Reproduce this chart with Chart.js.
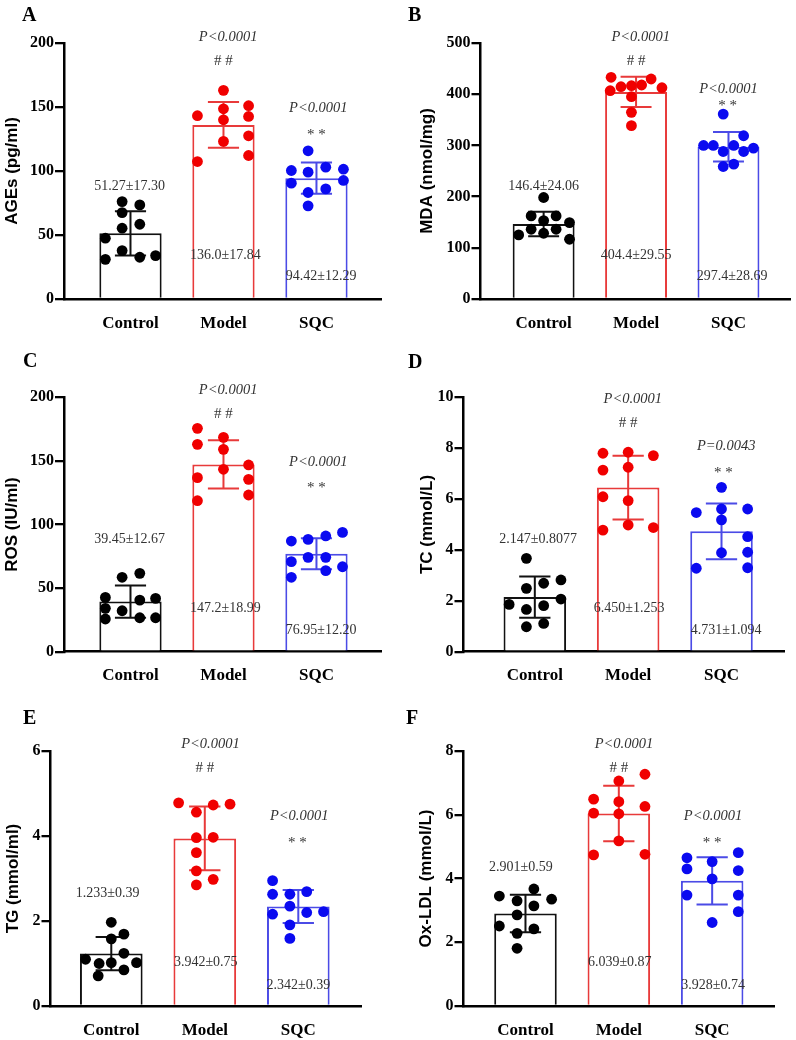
<!DOCTYPE html>
<html>
<head>
<meta charset="utf-8">
<script src="https://cdn.jsdelivr.net/npm/chart.js@4.4.1/dist/chart.umd.min.js"></script>
<style>
html, body { margin: 0; padding: 0; background: #ffffff; }
#wrap { position: relative; width: 796px; height: 1040px; overflow: hidden; background: #ffffff; }
#wrap canvas { position: absolute; }
.plabel { position: absolute; font-family: "Liberation Serif", serif; font-weight: bold; font-size: 20px; line-height: 20px; color: #000; }
</style>
</head>
<body>
<div id="wrap">
  <canvas id="cA"></canvas><canvas id="cB"></canvas><canvas id="cC"></canvas>
  <canvas id="cD"></canvas><canvas id="cE"></canvas><canvas id="cF"></canvas>
  <div class="plabel" style="left:22px;top:4px;">A</div>
  <div class="plabel" style="left:408px;top:4px;">B</div>
  <div class="plabel" style="left:23px;top:350px;">C</div>
  <div class="plabel" style="left:408px;top:351px;">D</div>
  <div class="plabel" style="left:23px;top:707px;">E</div>
  <div class="plabel" style="left:406px;top:707px;">F</div>
</div>
<script>
// ---------- shared ----------
const categories = ['Control', 'Model', 'SQC'];
const groupIndex = [0, 1, 2];

// ---------- A : AGEs ----------
const agesTicks = [0, 50, 100, 150, 200];
const agesMean = [51.27, 136.0, 94.42];
const agesSD = [17.30, 17.84, 12.29];
const agesMeanText = ['51.27±17.30', '136.0±17.84', '94.42±12.29'];
const agesPText = ['', 'P<0.0001', 'P<0.0001'];
const agesSigText = ['', '# #', '* *'];
const agesControl = [76.1, 73.5, 67.5, 58.4, 55.3, 47.5, 37.8, 31.0, 32.6, 33.9];
const agesControlJitter = [-0.09, 0.1, -0.09, 0.1, -0.09, -0.27, -0.09, -0.27, 0.1, 0.27];
const agesModel = [163.0, 143.2, 148.6, 151.0, 142.6, 140.0, 127.5, 123.1, 107.4, 112.1];
const agesModelJitter = [0, -0.28, 0, 0.27, 0.27, 0, 0.27, 0, -0.28, 0.27];
const agesSQC = [115.8, 100.4, 99.1, 103.0, 101.4, 90.5, 92.6, 86.0, 83.2, 72.8];
const agesSQCJitter = [-0.09, -0.27, -0.09, 0.1, 0.29, -0.27, 0.29, 0.1, -0.09, -0.09];

// ---------- B : MDA ----------
const mdaTicks = [0, 100, 200, 300, 400, 500];
const mdaMean = [146.4, 404.4, 297.4];
const mdaSD = [24.06, 29.55, 28.69];
const mdaMeanText = ['146.4±24.06', '404.4±29.55', '297.4±28.69'];
const mdaPText = ['', 'P<0.0001', 'P<0.0001'];
const mdaSigText = ['', '# #', '* *'];
const mdaControl = [198.2, 162.3, 162.3, 153.2, 149.3, 136.2, 136.2, 125.2, 128.4, 116.7];
const mdaControlJitter = [0, -0.135, 0.135, 0, 0.28, -0.135, 0.135, -0.27, 0, 0.28];
const mdaModel = [433.0, 429.7, 406.8, 414.6, 416.6, 418.0, 412.7, 395.1, 364.6, 338.5];
const mdaModelJitter = [-0.27, 0.163, -0.28, -0.163, -0.05, 0.06, 0.28, -0.05, -0.05, -0.05];
const mdaSQC = [361.1, 318.8, 299.9, 299.9, 299.9, 294.7, 288.1, 288.1, 258.8, 263.4];
const mdaSQCJitter = [-0.057, 0.164, -0.27, -0.164, 0.057, 0.27, -0.057, 0.164, -0.057, 0.057];

// ---------- C : ROS ----------
const rosTicks = [0, 50, 100, 150, 200];
const rosMean = [39.45, 147.2, 76.95];
const rosSD = [12.67, 18.99, 12.20];
const rosMeanText = ['39.45±12.67', '147.2±18.99', '76.95±12.20'];
const rosPText = ['', 'P<0.0001', 'P<0.0001'];
const rosSigText = ['', '# #', '* *'];
const rosControl = [58.5, 61.6, 42.7, 41.9, 40.6, 34.1, 32.2, 25.7, 26.7, 26.7];
const rosControlJitter = [-0.09, 0.1, -0.27, 0.27, 0.1, -0.27, -0.09, -0.27, 0.1, 0.27];
const rosModel = [175.6, 168.5, 163.0, 159.1, 146.8, 143.4, 136.8, 135.5, 123.2, 118.7];
const rosModelJitter = [-0.28, 0, -0.28, 0, 0.27, 0, -0.28, 0.27, 0.27, -0.28];
const rosSQC = [93.8, 87.0, 88.3, 91.0, 70.8, 74.2, 74.2, 66.8, 63.7, 58.5];
const rosSQCJitter = [0.28, -0.27, -0.09, 0.1, -0.27, -0.09, 0.1, 0.28, 0.1, -0.27];

// ---------- D : TC ----------
const tcTicks = [0, 2, 4, 6, 8, 10];
const tcMean = [2.147, 6.450, 4.731];
const tcSD = [0.8077, 1.253, 1.094];
const tcMeanText = ['2.147±0.8077', '6.450±1.253', '4.731±1.094'];
const tcPText = ['', 'P<0.0001', 'P=0.0043'];
const tcSigText = ['', '# #', '* *'];
const tcControl = [3.67, 2.82, 2.69, 2.49, 1.86, 2.07, 1.81, 1.66, 1.11, 0.98];
const tcControlJitter = [-0.09, 0.28, 0.095, -0.09, -0.275, 0.28, 0.095, -0.09, 0.095, -0.09];
const tcModel = [7.80, 7.84, 7.71, 7.14, 7.25, 6.09, 5.94, 4.78, 4.98, 4.88];
const tcModelJitter = [-0.27, 0, 0.27, -0.27, 0, -0.27, 0, -0.27, 0, 0.27];
const tcSQC = [6.46, 5.47, 5.61, 5.61, 5.18, 4.52, 3.89, 3.91, 3.28, 3.30];
const tcSQCJitter = [0, -0.27, 0, 0.28, 0, 0.28, 0, 0.28, -0.27, 0.28];

// ---------- E : TG ----------
const tgTicks = [0, 2, 4, 6];
const tgMean = [1.233, 3.942, 2.342];
const tgSD = [0.39, 0.75, 0.39];
const tgMeanText = ['1.233±0.39', '3.942±0.75', '2.342±0.39'];
const tgPText = ['', 'P<0.0001', 'P<0.0001'];
const tgSigText = ['', '# #', '* *'];
const tgControl = [1.97, 1.69, 1.58, 1.10, 1.00, 1.02, 1.24, 1.02, 0.85, 0.71];
const tgControlJitter = [0, 0.135, 0, -0.275, -0.13, 0, 0.135, 0.27, 0.135, -0.14];
const tgModel = [4.78, 4.73, 4.75, 4.56, 3.96, 3.97, 3.61, 3.18, 2.98, 2.85];
const tgModelJitter = [-0.28, 0.09, 0.27, -0.09, -0.09, 0.09, -0.09, -0.09, 0.09, -0.09];
const tgSQC = [2.95, 2.63, 2.63, 2.69, 2.35, 2.16, 2.20, 2.22, 1.91, 1.59];
const tgSQCJitter = [-0.275, -0.275, -0.09, 0.09, -0.09, -0.275, 0.09, 0.27, -0.09, -0.09];

// ---------- F : Ox-LDL ----------
const oxTicks = [0, 2, 4, 6, 8];
const oxMean = [2.901, 6.039, 3.928];
const oxSD = [0.59, 0.87, 0.74];
const oxMeanText = ['2.901±0.59', '6.039±0.87', '3.928±0.74'];
const oxPText = ['', 'P<0.0001', 'P<0.0001'];
const oxSigText = ['', '# #', '* *'];
const oxControl = [3.67, 3.45, 3.35, 3.30, 3.14, 2.86, 2.51, 2.42, 2.28, 1.81];
const oxControlJitter = [0.09, -0.28, 0.28, -0.09, 0.09, -0.09, -0.28, 0.09, -0.09, -0.09];
const oxModel = [7.27, 7.06, 6.49, 6.41, 6.26, 6.05, 6.03, 5.18, 4.74, 4.76];
const oxModelJitter = [0.28, 0, -0.27, 0, 0.28, -0.27, 0, 0, -0.27, 0.28];
const oxSQC = [4.81, 4.65, 4.53, 4.30, 4.25, 3.99, 3.48, 3.48, 2.96, 2.62];
const oxSQCJitter = [0.28, -0.27, 0, -0.27, 0.28, 0, -0.27, 0.28, 0.28, 0];

// ---------- styles ----------
const barColors = ['#111111', '#e83a3a', '#4b4be6'];
const dotColors = ['#000000', '#f00000', '#0a0af0'];
const textColor = '#333333';

// ---------- panel layout (positions / styles only) ----------
const panels = [
  { canvas: 'cA', title: 'AGEs (pg/ml)', ticks: agesTicks, mean: agesMean, sd: agesSD,
    meanText: agesMeanText, pText: agesPText, sigText: agesSigText,
    values: [agesControl, agesModel, agesSQC], jitter: [agesControlJitter, agesModelJitter, agesSQCJitter],
    box: { left: 0, top: 0, w: 398, h: 345 }, axisX: 64, plotTop: 43, plotBottom: 299, plotRight: 381,
    xMin: -0.715, xMax: 2.694, titlePad: 2.5,
    pos: { mean: [[-0.01, 88.3], [1.02, 34.4], [2.05, 17.4]], p: [null, [1.05, 204.4], [2.02, 149]], sig: [null, [1.0, 186.2], [2.0, 128]] } },
  { canvas: 'cB', title: 'MDA (nmol/mg)', ticks: mdaTicks, mean: mdaMean, sd: mdaSD,
    meanText: mdaMeanText, pText: mdaPText, sigText: mdaSigText,
    values: [mdaControl, mdaModel, mdaSQC], jitter: [mdaControlJitter, mdaModelJitter, mdaSQCJitter],
    box: { left: 398, top: 0, w: 398, h: 345 }, axisX: 480.5, plotTop: 43, plotBottom: 299, plotRight: 795,
    xMin: -0.683, xMax: 2.672, titlePad: 18.8,
    pos: { mean: [[0, 220.7], [1.0, 86], [2.04, 43.6]], p: [null, [1.05, 511], [2.0, 409.5]], sig: [null, [1.0, 465.4], [1.99, 377]] } },
  { canvas: 'cC', title: 'ROS (IU/ml)', ticks: rosTicks, mean: rosMean, sd: rosSD,
    meanText: rosMeanText, pText: rosPText, sigText: rosSigText,
    values: [rosControl, rosModel, rosSQC], jitter: [rosControlJitter, rosModelJitter, rosSQCJitter],
    box: { left: 0, top: 345, w: 398, h: 345 }, axisX: 64, plotTop: 397.3, plotBottom: 651.7, plotRight: 381,
    xMin: -0.715, xMax: 2.694, titlePad: 2.5,
    pos: { mean: [[-0.01, 88.4], [1.02, 34.1], [2.05, 16.5]], p: [null, [1.05, 205.2], [2.02, 148.9]], sig: [null, [1.0, 186.9], [2.0, 128.4]] } },
  { canvas: 'cD', title: 'TC (mmol/L)', ticks: tcTicks, mean: tcMean, sd: tcSD,
    meanText: tcMeanText, pText: tcPText, sigText: tcSigText,
    values: [tcControl, tcModel, tcSQC], jitter: [tcControlJitter, tcModelJitter, tcSQCJitter],
    box: { left: 398, top: 345, w: 398, h: 345 }, axisX: 463.5, plotTop: 397.3, plotBottom: 651.7, plotRight: 784.7,
    xMin: -0.764, xMax: 2.677, titlePad: 18.8,
    pos: { mean: [[0.035, 4.42], [1.01, 1.71], [2.05, 0.83]], p: [null, [1.05, 9.93], [2.05, 8.06]], sig: [null, [1.0, 8.98], [2.02, 7.04]] } },
  { canvas: 'cE', title: 'TG (mmol/ml)', ticks: tgTicks, mean: tgMean, sd: tgSD,
    meanText: tgMeanText, pText: tgPText, sigText: tgSigText,
    values: [tgControl, tgModel, tgSQC], jitter: [tgControlJitter, tgModelJitter, tgSQCJitter],
    box: { left: 0, top: 690, w: 398, h: 350 }, axisX: 50.5, plotTop: 751, plotBottom: 1006, plotRight: 361.7,
    xMin: -0.650, xMax: 2.678, titlePad: 2.8,
    pos: { mean: [[-0.04, 2.65], [1.01, 1.02], [2.0, 0.49]], p: [null, [1.06, 6.16], [2.01, 4.47]], sig: [null, [1.0, 5.61], [1.99, 3.84]] } },
  { canvas: 'cF', title: 'Ox-LDL (mmol/L)', ticks: oxTicks, mean: oxMean, sd: oxSD,
    meanText: oxMeanText, pText: oxPText, sigText: oxSigText,
    values: [oxControl, oxModel, oxSQC], jitter: [oxControlJitter, oxModelJitter, oxSQCJitter],
    box: { left: 398, top: 690, w: 398, h: 350 }, axisX: 463.5, plotTop: 751, plotBottom: 1006, plotRight: 774.7,
    xMin: -0.664, xMax: 2.67, titlePad: 18.5,
    pos: { mean: [[-0.05, 4.34], [1.01, 1.36], [2.01, 0.66]], p: [null, [1.055, 8.22], [2.01, 5.96]], sig: [null, [1.0, 7.48], [2.0, 5.12]] } }
];

// ---------- plugin: error bars + annotations ----------
const errorAndTextPlugin = {
  id: 'errAndText',
  afterDatasetDraw(chart, args, opts) {
    if (args.index !== 0) return;
    const ctx = chart.ctx;
    const xs = chart.scales.x, ys = chart.scales.y;
    const meta = chart.getDatasetMeta(0);
    ctx.save();
    ctx.lineWidth = 2;
    ctx.lineCap = 'butt';
    opts.mean.forEach((m, i) => {
      const cx = xs.getPixelForValue(groupIndex[i]);
      const half = meta.data[i].width / 4;
      const yTop = ys.getPixelForValue(m + opts.sd[i]);
      const yBot = ys.getPixelForValue(m - opts.sd[i]);
      ctx.strokeStyle = opts.colors[i];
      ctx.beginPath();
      ctx.moveTo(cx, yTop); ctx.lineTo(cx, yBot);
      ctx.moveTo(cx - half, yTop); ctx.lineTo(cx + half, yTop);
      ctx.moveTo(cx - half, yBot); ctx.lineTo(cx + half, yBot);
      ctx.stroke();
    });
    ctx.restore();
  },
  afterDraw(chart, args, opts) {
    const ctx = chart.ctx;
    const xs = chart.scales.x, ys = chart.scales.y;
    ctx.save();
    ctx.textAlign = 'center';
    ctx.textBaseline = 'middle';
    ctx.fillStyle = textColor;
    const put = (txt, p, font) => {
      if (!txt || !p) return;
      ctx.font = font;
      ctx.fillText(txt, xs.getPixelForValue(p[0]), ys.getPixelForValue(p[1]));
    };
    groupIndex.forEach(i => {
      put(opts.meanText[i], opts.pos.mean[i], '14px "Liberation Serif"');
      put(opts.pText[i], opts.pos.p[i], 'italic 14.5px "Liberation Serif"');
      put(opts.sigText[i], opts.pos.sig[i], '15px "Liberation Serif"');
    });
    ctx.restore();
  }
};

// ---------- build charts ----------
panels.forEach(p => {
  const cv = document.getElementById(p.canvas);
  cv.width = p.box.w; cv.height = p.box.h;
  cv.style.left = p.box.left + 'px'; cv.style.top = p.box.top + 'px';
  cv.style.width = p.box.w + 'px'; cv.style.height = p.box.h + 'px';

  const yWidth = p.axisX - p.box.left;
  const xHeight = p.box.top + p.box.h - p.plotBottom;

  const datasets = [{
    type: 'bar',
    data: groupIndex.map(i => ({ x: i, y: p.mean[i] })),
    backgroundColor: '#ffffff',
    borderColor: barColors,
    borderWidth: 2,
    borderSkipped: 'start',
    barPercentage: 0.67,
    categoryPercentage: 1.0,
    order: 2
  }];
  groupIndex.forEach(g => {
    datasets.push({
      type: 'scatter',
      data: p.values[g].map((v, k) => ({ x: g + p.jitter[g][k], y: v })),
      backgroundColor: dotColors[g],
      borderWidth: 0,
      pointRadius: 5.4,
      pointHoverRadius: 5.4,
      order: 1
    });
  });

  new Chart(cv, {
    type: 'bar',
    data: { datasets },
    plugins: [errorAndTextPlugin],
    options: {
      responsive: false,
      animation: false,
      events: [],
      layout: { padding: { left: 0, top: p.plotTop - p.box.top, right: p.box.left + p.box.w - p.plotRight, bottom: 0 } },
      plugins: {
        legend: { display: false },
        tooltip: { enabled: false },
        errAndText: { mean: p.mean, sd: p.sd, colors: barColors, meanText: p.meanText, pText: p.pText, sigText: p.sigText, pos: p.pos }
      },
      scales: {
        x: {
          type: 'linear',
          offset: false,
          min: p.xMin, max: p.xMax,
          afterBuildTicks: s => { s.ticks = groupIndex.map(v => ({ value: v })); },
          afterFit: s => { s.height = xHeight; },
          ticks: {
            callback: v => categories[v],
            autoSkip: false, maxRotation: 0,
            color: '#000000',
            padding: 14,
            font: { family: 'Liberation Serif', weight: 'bold', size: 17 }
          },
          grid: { display: false, drawTicks: false, offset: false },
          border: { display: true, color: '#000000', width: 2.5 }
        },
        y: {
          type: 'linear',
          min: p.ticks[0], max: p.ticks[p.ticks.length - 1],
          afterBuildTicks: s => { s.ticks = p.ticks.map(v => ({ value: v })); },
          afterFit: s => { s.width = yWidth; },
          ticks: {
            color: '#000000',
            padding: 1,
            font: { family: 'Liberation Serif', weight: 'bold', size: 16 }
          },
          grid: { display: true, drawOnChartArea: false, drawTicks: true, tickLength: 9, color: '#000000', lineWidth: 2.3, tickWidth: 2.3 },
          border: { display: true, color: '#000000', width: 2.5 },
          title: {
            display: true, text: p.title, color: '#000000',
            font: { family: 'Liberation Sans', weight: 'bold', size: 17 },
            padding: { top: p.titlePad, bottom: 0 }
          }
        }
      }
    }
  });
});
</script>
</body>
</html>
